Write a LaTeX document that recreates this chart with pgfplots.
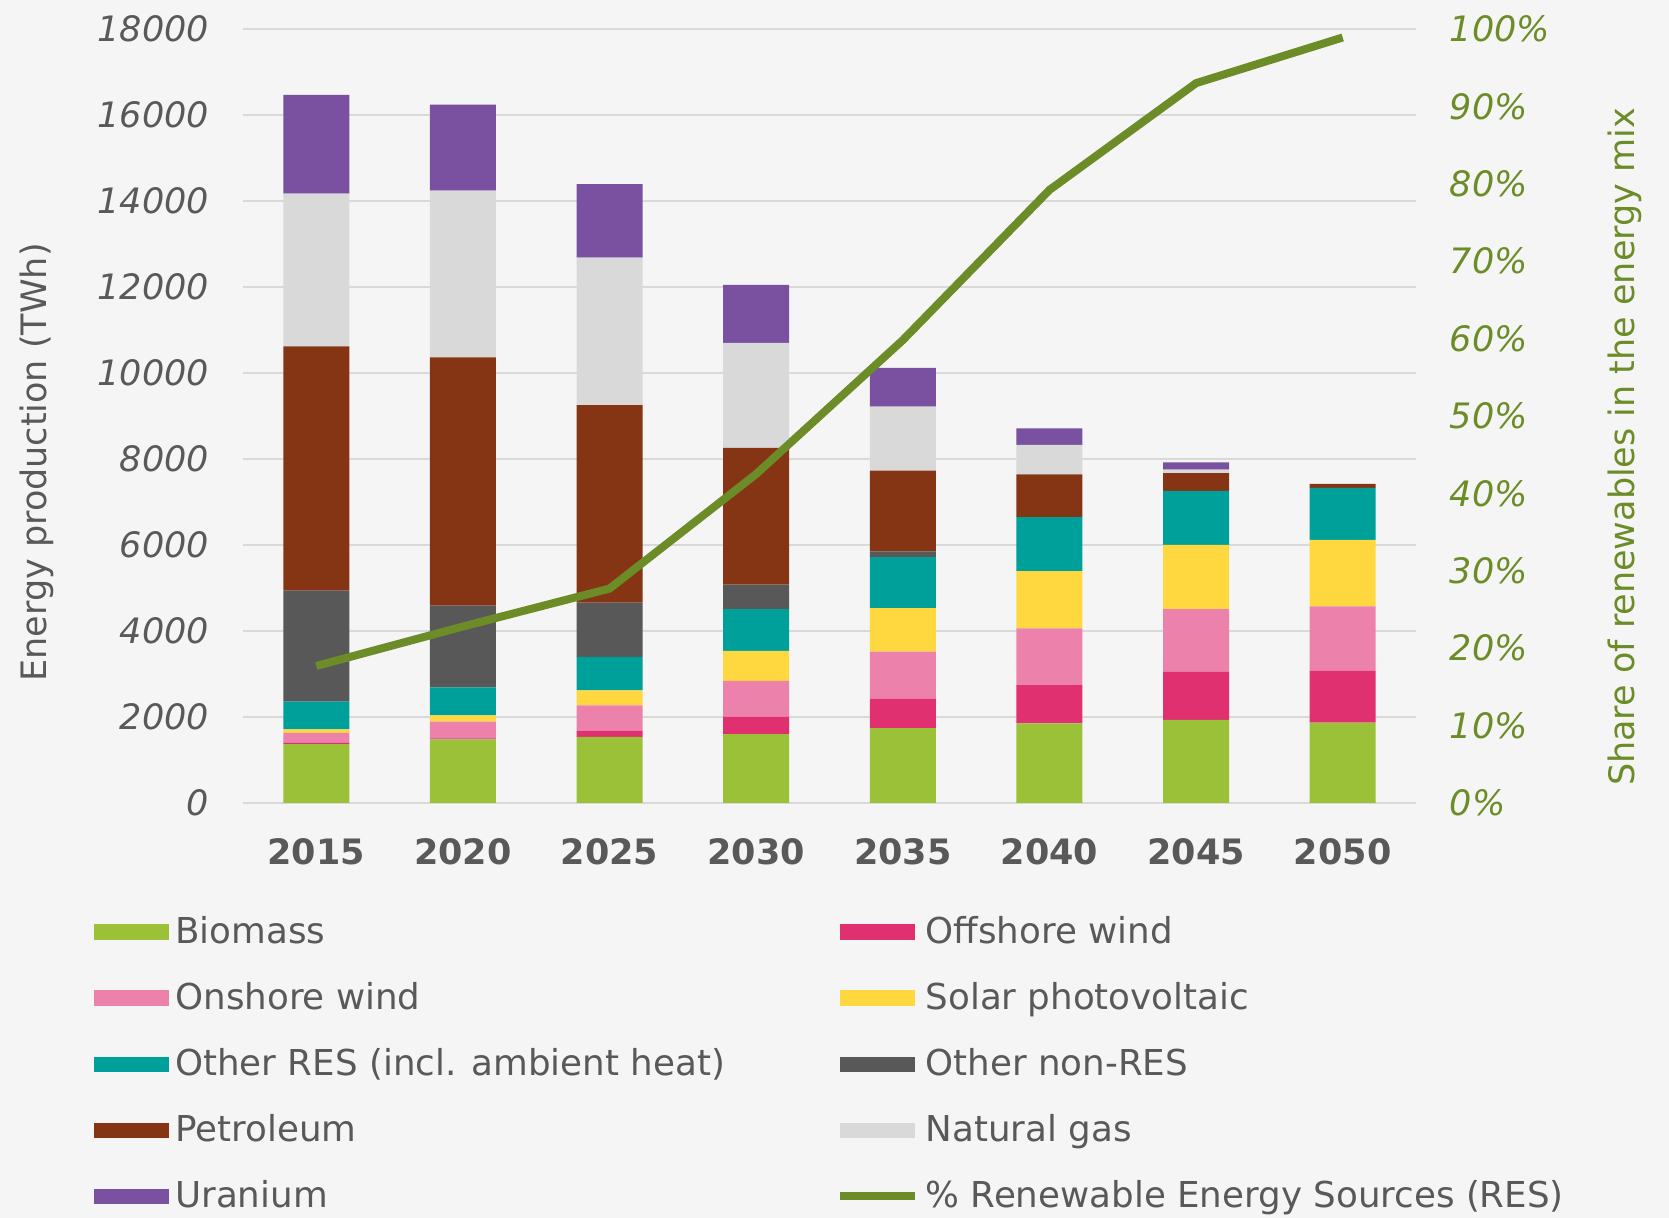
\documentclass[border=0pt]{standalone}
\usepackage{fontspec}
\setmainfont{DejaVu Sans}
\usepackage{pgfplots}
\usepackage{pgfplotstable}
\pgfplotsset{compat=1.18}

\definecolor{biomass}{RGB}{155,193,57}
\definecolor{offshore}{RGB}{224,48,112}
\definecolor{onshore}{RGB}{236,130,172}
\definecolor{solar}{RGB}{255,216,64}
\definecolor{otherres}{RGB}{0,160,154}
\definecolor{nonres}{RGB}{88,88,88}
\definecolor{petrol}{RGB}{134,53,20}
\definecolor{natgas}{RGB}{217,217,217}
\definecolor{uranium}{RGB}{122,80,160}
\definecolor{resline}{RGB}{108,140,40}
\definecolor{txtgray}{RGB}{89,89,89}
\definecolor{gridgray}{RGB}{217,217,217}
\definecolor{bg}{RGB}{245,245,245}

% TWh by source, and % RES share
\pgfplotstableread{
x bio off on sol ores nres pet gas ura res
0 1370 30 230 80 650 2580 5680 3550 2300 17.7
1 1480 20 390 150 650 1900 5770 3880 2000 22.8
2 1540 140 590 350 780 1260 4590 3430 1710 27.7
3 1600 400 840 700 970 570 3180 2440 1350 42.5
4 1740 680 1100 1010 1190 130 1880 1490 900 59.8
5 1850 890 1320 1330 1260 0 990 690 380 79.2
6 1930 1120 1460 1490 1260 0 410 80 170 93.0
7 1870 1200 1500 1550 1210 0 90 0 0 98.9
}\datatable

\pgfplotsset{
  base/.style={
    at={(72.9pt,124.5pt)}, anchor=south west,
    scale only axis, width=351.9pt, height=232.2pt,
    xmin=-0.5, xmax=7.5,
    axis line style={draw=none},
    major tick length=0pt,
    /pgf/number format/assume math mode=true,
    tick label style={font=\fontsize{10.5}{12}\selectfont},
  }
}

\begin{document}
\begin{tikzpicture}
\fill[bg] (0,0) rectangle (500.7pt,365.4pt);
\useasboundingbox (0,0) rectangle (500.7pt,365.4pt);

\begin{axis}[
  base,
  ybar stacked, bar width=0.45,
  ymin=0, ymax=18000,
  axis x line*=bottom, axis y line*=left,
  ymajorgrids, grid style={gridgray, line width=0.7pt},
  xtick={0,...,7},
  xticklabels={2015,2020,2025,2030,2035,2040,2045,2050},
  xticklabel style={anchor=center, inner sep=0pt, yshift=-14.7pt,
    font=\fontsize{10.5}{12}\selectfont\bfseries, text=txtgray},
  ytick={0,2000,...,18000},
  scaled y ticks=false,
  yticklabel style={anchor=east, inner sep=0pt, xshift=-10pt,
    font=\fontsize{10.5}{12}\selectfont\itshape, text=txtgray,
    /pgf/number format/1000 sep={}},
  ylabel={Energy production (TWh)},
  every axis y label/.style={at={(axis description cs:-0.176,0.44)},
    rotate=90, anchor=center, font=\fontsize{10.5}{12}\selectfont, text=txtgray},
  legend image code/.code={\fill[#1] (0pt,-2.3pt) rectangle (22.4pt,2.3pt);},
  legend cell align=left,
  legend style={at={(axis description cs:-0.1276,-0.1365)}, anchor=north west,
    draw=none, fill=none, inner sep=0pt, legend columns=2,
    font=\fontsize{10.7}{12}\selectfont, text=txtgray, row sep=6.2pt,
    /tikz/every even column/.append style={column sep=31.4pt}},
]
\addplot[fill=biomass, draw=none] table[x=x, y=bio] {\datatable};
\addlegendentry{Biomass}
\addplot[fill=offshore, draw=none] table[x=x, y=off] {\datatable};
\addlegendentry{Offshore wind}
\addplot[fill=onshore, draw=none] table[x=x, y=on] {\datatable};
\addlegendentry{Onshore wind}
\addplot[fill=solar, draw=none] table[x=x, y=sol] {\datatable};
\addlegendentry{Solar photovoltaic}
\addplot[fill=otherres, draw=none] table[x=x, y=ores] {\datatable};
\addlegendentry{Other RES (incl. ambient heat)}
\addplot[fill=nonres, draw=none] table[x=x, y=nres] {\datatable};
\addlegendentry{Other non-RES}
\addplot[fill=petrol, draw=none] table[x=x, y=pet] {\datatable};
\addlegendentry{Petroleum}
\addplot[fill=natgas, draw=none] table[x=x, y=gas] {\datatable};
\addlegendentry{Natural gas}
\addplot[fill=uranium, draw=none] table[x=x, y=ura] {\datatable};
\addlegendentry{Uranium}
\addlegendimage{legend image code/.code={\draw[resline, line width=2.4pt] (0pt,0pt) -- (22.4pt,0pt);}}
\addlegendentry{\% Renewable Energy Sources (RES)}
\end{axis}

\begin{axis}[
  base,
  ymin=0, ymax=100,
  axis x line=none, axis y line*=right,
  ytick={0,10,...,100},
  yticklabel={\pgfmathprintnumber{\tick}\%},
  yticklabel style={anchor=west, inner sep=0pt, xshift=10pt,
    font=\fontsize{10.5}{12}\selectfont\itshape, text=resline},
  ylabel={Share of renewables in the energy mix},
  every axis y label/.style={at={(axis description cs:1.178,0.46)},
    rotate=90, anchor=center, font=\fontsize{10.5}{12}\selectfont, text=resline},
]
\addplot[resline, line width=2.4pt, mark=none] table[x=x, y=res] {\datatable};
\end{axis}
\end{tikzpicture}
\end{document}
